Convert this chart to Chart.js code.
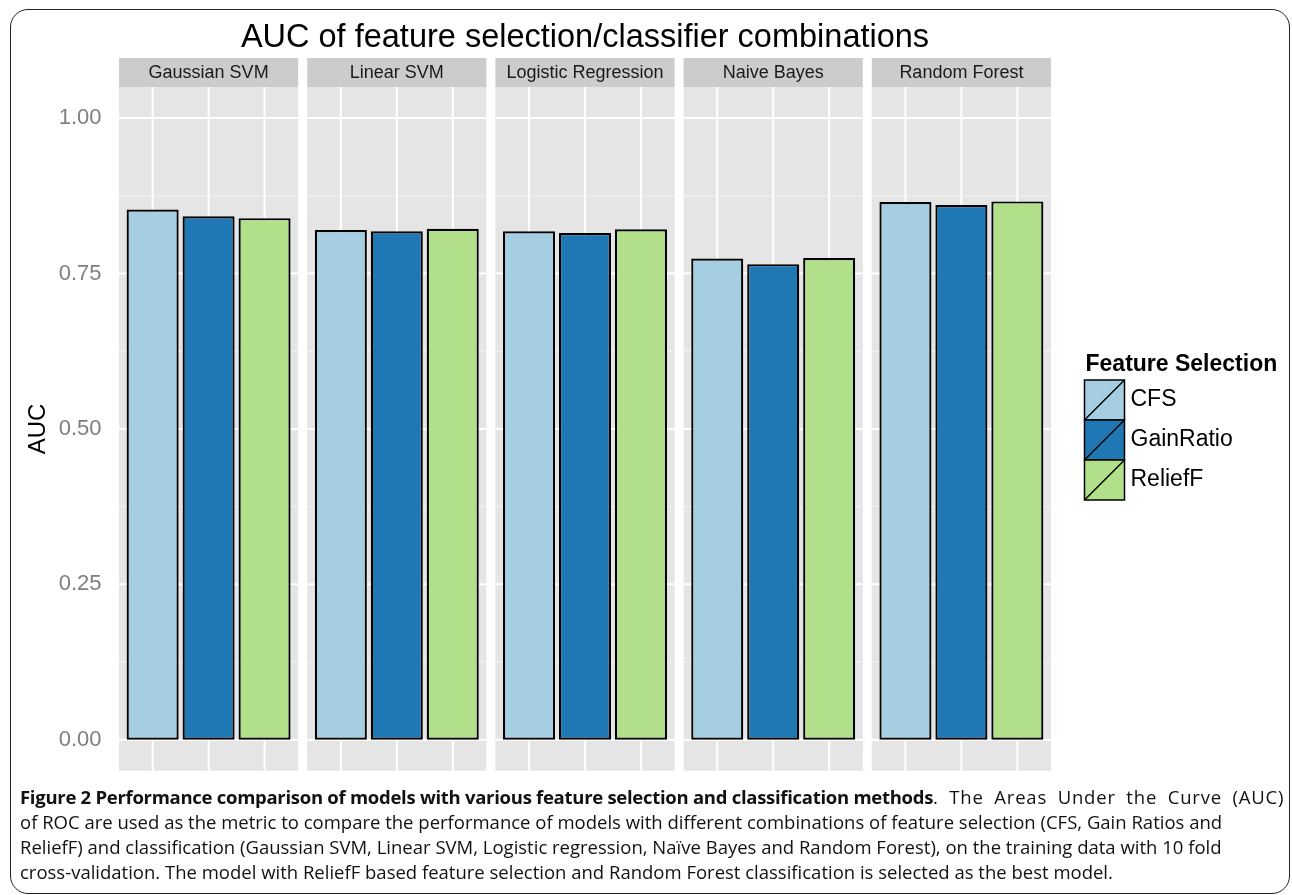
<!DOCTYPE html>
<html>
<head>
<meta charset="utf-8">
<script src="https://cdn.jsdelivr.net/npm/chart.js@4.4.1/dist/chart.umd.min.js"></script>
<style>
  body { margin: 0; background: #fff; width: 1292px; height: 895px; overflow: hidden; position: relative; }
  #frame { position: absolute; left: 10px; top: 9px; width: 1280px; height: 885px; border: 1.5px solid #222; border-radius: 18px; box-sizing: border-box; }
  #chart { position: absolute; left: 0; top: 0; }
  #caption { position: absolute; left: 20px; top: 784px; font-family: "Open Sans", sans-serif; font-size: 18.5px; line-height: 25px; color: #111; white-space: nowrap; }
  #caption b { letter-spacing: -0.28px; }
  #caption .wide { letter-spacing: 0.8px; word-spacing: 5px; }
</style>
</head>
<body>
<div id="frame"></div>
<canvas id="chart" width="1292" height="797"></canvas>
<div id="caption">
  <div><b>Figure 2 Performance comparison of models with various feature selection and classification methods</b><span class="wide">. The Areas Under the Curve (AUC)</span></div>
  <div>of ROC are used as the metric to compare the performance of models with different combinations of feature selection (CFS, Gain Ratios and</div>
  <div>ReliefF) and classification (Gaussian SVM, Linear SVM, Logistic regression, Naïve Bayes and Random Forest), on the training data with 10 fold</div>
  <div>cross-validation. The model with ReliefF based feature selection and Random Forest classification is selected as the best model.</div>
</div>
<script>
// classifiers (facets) and feature selection methods
const classifiers = ["Gaussian SVM", "Linear SVM", "Logistic Regression", "Naive Bayes", "Random Forest"];
const methods = ["CFS", "GainRatio", "ReliefF"];
const colors = ['#A6CEE3', '#1F78B4', '#B2DF8A'];

// AUC
const aucCFS = [0.853, 0.820, 0.818, 0.774, 0.865];
const aucGain = [0.842, 0.818, 0.815, 0.765, 0.860];
const aucRelief = [0.839, 0.822, 0.821, 0.775, 0.866];

const yTicks = [0, 0.25, 0.5, 0.75, 1];

const font = '"Liberation Sans", Arial, sans-serif';
const gap = 9; // space between panels

// grey panels, grid lines and strips like ggplot facets
const facetPlugin = {
    id: 'facets',
    beforeDatasetsDraw(chart) {
        const {ctx, chartArea: a, scales: {x, y}} = chart;
        const half = x.width / classifiers.length / 2 - gap / 2;
        const minor = yTicks.slice(1).map((v, k) => (v + yTicks[k]) / 2);
        ctx.save();
        classifiers.forEach((name, i) => {
            const cx = x.getPixelForValue(i);
            const l = cx - half, w = half * 2;
            ctx.fillStyle = '#E5E5E5';
            ctx.fillRect(l, a.top, w, a.bottom - a.top);
            ctx.strokeStyle = '#F4F4F4';
            ctx.lineWidth = 1;
            minor.forEach(v => {
                const py = y.getPixelForValue(v);
                ctx.beginPath(); ctx.moveTo(l, py); ctx.lineTo(l + w, py); ctx.stroke();
            });
            ctx.strokeStyle = '#FFFFFF';
            ctx.lineWidth = 2;
            yTicks.forEach(v => {
                const py = y.getPixelForValue(v);
                ctx.beginPath(); ctx.moveTo(l, py); ctx.lineTo(l + w, py); ctx.stroke();
            });
            methods.forEach((m, d) => {
                const bx = chart.getDatasetMeta(d).data[i].x;
                ctx.beginPath(); ctx.moveTo(bx, a.top); ctx.lineTo(bx, a.bottom); ctx.stroke();
            });
            // strip
            ctx.fillStyle = '#CCCCCC';
            ctx.fillRect(l, a.top - 29, w, 29);
            ctx.fillStyle = '#1A1A1A';
            ctx.font = '18px ' + font;
            ctx.textAlign = 'center';
            ctx.textBaseline = 'middle';
            ctx.fillText(name, cx, a.top - 14);
        });
        ctx.restore();
    },
    afterDraw(chart) {
        // legend with diagonal keys
        const {ctx, chartArea: a} = chart;
        const lx = a.right + 29, ty = 365, size = 40;
        ctx.save();
        ctx.fillStyle = '#000';
        ctx.font = 'bold 23px ' + font;
        ctx.textAlign = 'left';
        ctx.textBaseline = 'middle';
        ctx.fillText('Feature Selection', lx + 1, ty);
        chart.data.datasets.forEach((ds, d) => {
            const by = ty + 15 + d * size;
            ctx.fillStyle = ds.backgroundColor;
            ctx.fillRect(lx, by, size, size);
            ctx.strokeStyle = '#000';
            ctx.lineWidth = 1.5;
            ctx.strokeRect(lx, by, size, size);
            ctx.beginPath(); ctx.moveTo(lx, by + size); ctx.lineTo(lx + size, by); ctx.stroke();
            ctx.fillStyle = '#000';
            ctx.font = '23px ' + font;
            ctx.fillText(ds.label, lx + size + 6, by + size / 2);
        });
        ctx.restore();
    }
};

new Chart("chart", {
    type: "bar",
    data: {
        labels: classifiers,
        datasets: [aucCFS, aucGain, aucRelief].map((vals, d) => ({
            label: methods[d],
            data: vals,
            backgroundColor: colors[d],
            borderColor: '#000',
            borderWidth: 2.2,
            borderSkipped: false,
            barPercentage: 0.93,
            categoryPercentage: 0.892
        }))
    },
    options: {
        responsive: false,
        animation: false,
        devicePixelRatio: 1,
        layout: { padding: { left: 0, right: 236.5, top: 0, bottom: 14 } },
        plugins: {
            legend: { display: false },
            tooltip: { enabled: false },
            title: {
                display: true,
                fullSize: false,
                text: 'AUC of feature selection/classifier combinations',
                color: '#000',
                font: { family: font, size: 32.5, weight: 'normal' },
                padding: { top: 19, bottom: 29 }
            }
        },
        scales: {
            x: { display: false },
            y: {
                min: -0.05,
                max: 1.05,
                afterBuildTicks: (s) => { s.ticks = yTicks.map(v => ({ value: v })); },
                afterFit: (s) => { s.width = 114.5; },
                grid: { display: false, drawTicks: false },
                border: { display: false },
                ticks: {
                    color: '#7F7F7F',
                    padding: 13,
                    font: { family: font, size: 22 },
                    callback: (v) => Number(v).toFixed(2)
                },
                title: {
                    display: true,
                    text: 'AUC',
                    color: '#000',
                    font: { family: font, size: 24 },
                    padding: { top: 24, bottom: 0 }
                }
            }
        }
    },
    plugins: [facetPlugin]
});
</script>
</body>
</html>
